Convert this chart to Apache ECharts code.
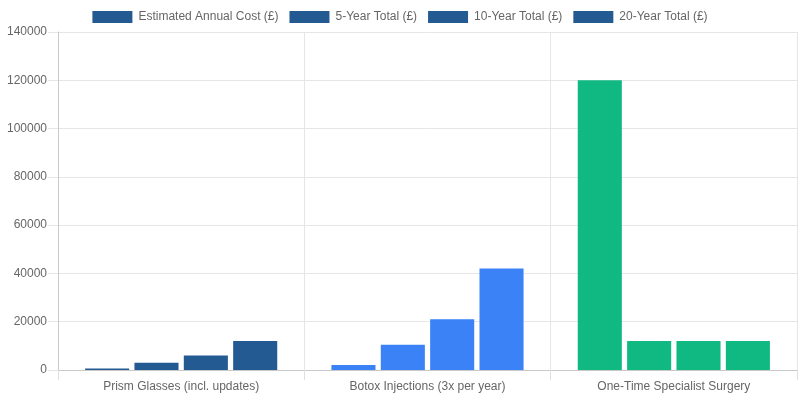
<!DOCTYPE html>
<html>
<head>
<meta charset="utf-8">
<script src="https://cdn.jsdelivr.net/npm/echarts@6/dist/echarts.min.js"></script>
<style>
  html, body { margin: 0; padding: 0; background: #fff; }
  #chart { width: 800px; height: 400px; }
</style>
</head>
<body>
<div id="chart"></div>
<script>
// data
const categories = ['Prism Glasses (incl. updates)', 'Botox Injections (3x per year)', 'One-Time Specialist Surgery'];
const seriesNames = ['Estimated Annual Cost (£)', '5-Year Total (£)', '10-Year Total (£)', '20-Year Total (£)'];
const annualCost = [600, 2100, 120000];
const fiveYear = [3000, 10500, 12000];
const tenYear = [6000, 21000, 12000];
const twentyYear = [12000, 42000, 12000];
const categoryColors = ['#245a92', '#3b82f6', '#10b981'];

const chart = echarts.init(document.getElementById('chart'));

const font = 'Liberation Sans, Arial, sans-serif';

function makeSeries(name, values) {
  return {
    name: name,
    type: 'bar',
    barGap: '12%',
    barCategoryGap: '22%',
    itemStyle: { color: categoryColors[0] },
    data: values.map((v, i) => ({ value: v, itemStyle: { color: categoryColors[i] } }))
  };
}

const option = {
  animation: false,
  textStyle: { fontFamily: font },
  legend: {
    top: 6,
    left: 'center',
    icon: 'rect',
    itemWidth: 40,
    itemHeight: 12,
    itemGap: 11,
    textStyle: { color: '#666', fontSize: 12, fontFamily: font, padding: [0, 0, 0, 1] }
  },
  grid: { left: 58, right: 3, top: 32, bottom: 30 },
  xAxis: {
    type: 'category',
    data: categories,
    axisLine: { lineStyle: { color: '#c8c8c8', width: 1 } },
    axisTick: { show: true, length: 10, lineStyle: { color: '#e0e0e0' } },
    splitLine: { show: true, lineStyle: { color: '#e6e6e6' } },
    axisLabel: { color: '#666', fontSize: 12, fontFamily: font, margin: 11 }
  },
  yAxis: {
    type: 'value',
    min: 0,
    max: 140000,
    interval: 20000,
    axisLine: { show: true, lineStyle: { color: '#c8c8c8', width: 1 } },
    axisTick: { show: true, length: 10, lineStyle: { color: '#e6e6e6' } },
    splitLine: { show: true, lineStyle: { color: '#e6e6e6' } },
    axisLabel: { color: '#666', fontSize: 12, fontFamily: font, margin: 11, formatter: v => String(v) }
  },
  series: [
    makeSeries(seriesNames[0], annualCost),
    makeSeries(seriesNames[1], fiveYear),
    makeSeries(seriesNames[2], tenYear),
    makeSeries(seriesNames[3], twentyYear)
  ]
};

chart.setOption(option);
</script>
</body>
</html>
